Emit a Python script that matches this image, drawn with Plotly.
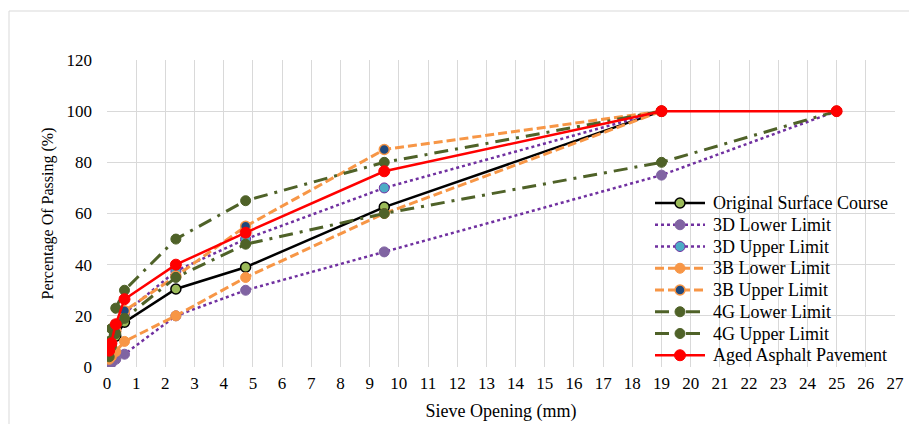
import plotly.graph_objects as go

# Sieve sizes (mm)
sieves_full = [25, 19, 9.5, 4.75, 2.36, 0.6, 0.3, 0.15, 0.075]
sieves_19 = [19, 9.5, 4.75, 2.36, 0.6, 0.3, 0.15, 0.075]

# Percentage passing for each gradation
original_surface = [100, 62.5, 39, 30.5, 17.5, 12, 8, 5]
d3_lower = [100, 75, 45, 30, 20, 5, 3, 1.5, 0]
d3_upper = [100, 70, 50, 37.5, 21, 14, 9, 6]
b3_lower = [100, 60, 35, 20, 10, 6, 4, 3]
b3_upper = [100, 85, 55, 35.5, 22, 14, 9, 6]
g4_lower = [100, 80, 60, 48, 35, 19, 13, 8, 4]
g4_upper = [100, 80, 65, 50, 30, 23, 15, 10]
aged_pavement = [100, 100, 76.5, 52.5, 40, 26.5, 16.7, 9.3, 6.4]

FONT = "Liberation Serif"
DOT = "dot"
DASH = "9px,4px"
DASHDOT = "14px,7px,3px,7px"

series = [
    dict(name="Original Surface Course", x=sieves_19, y=original_surface,
         line=dict(color="#000000", width=2.5),
         marker=dict(color="#9BBB59", size=10, line=dict(color="#000000", width=1.5))),
    dict(name="3D Lower Limit", x=sieves_full, y=d3_lower,
         line=dict(color="#7030A0", width=2.5, dash=DOT),
         marker=dict(color="#8064A2", size=10, line=dict(color="#8064A2", width=1))),
    dict(name="3D Upper Limit", x=sieves_19, y=d3_upper,
         line=dict(color="#7030A0", width=2.5, dash=DOT),
         marker=dict(color="#4BACC6", size=10, line=dict(color="#7030A0", width=1))),
    dict(name="3B Lower Limit", x=sieves_19, y=b3_lower,
         line=dict(color="#F79646", width=3, dash=DASH),
         marker=dict(color="#F79646", size=10, line=dict(color="#F79646", width=1))),
    dict(name="3B Upper Limit", x=sieves_19, y=b3_upper,
         line=dict(color="#F79646", width=3, dash=DASH),
         marker=dict(color="#1F497D", size=10, line=dict(color="#F79646", width=1.5))),
    dict(name="4G Lower Limit", x=sieves_full, y=g4_lower,
         line=dict(color="#4F6228", width=3, dash=DASHDOT),
         marker=dict(color="#4F6228", size=10, line=dict(color="#4F6228", width=1))),
    dict(name="4G Upper Limit", x=sieves_19, y=g4_upper,
         line=dict(color="#4F6228", width=3, dash=DASHDOT),
         marker=dict(color="#4F6228", size=10, line=dict(color="#4F6228", width=1))),
    dict(name="Aged Asphalt Pavement", x=sieves_full, y=aged_pavement,
         line=dict(color="#FF0000", width=2.5),
         marker=dict(color="#FF0000", size=11, line=dict(color="#FF0000", width=1))),
]

fig = go.Figure()
for s in series:
    fig.add_trace(go.Scatter(x=s["x"], y=s["y"], name=s["name"], mode="lines+markers",
                             line=s["line"], marker=s["marker"], showlegend=False))

# Plot-area geometry in pixels (used for the compact legend block)
W, H = 909, 424
ML, MR, MT, MB = 107, 14, 60, 57
PW, PH = W - ML - MR, H - MT - MB


def px_to_paper_x(px):
    return (px - ML) / PW


def px_to_paper_y(py):
    return (H - MB - py) / PH


# Compact legend: sample line + marker + label per series
LEG_LEFT, LEG_SAMPLE, LEG_TOP, LEG_ROW = 655, 50, 203, 21.75
shapes = []
annotations = []
for i, s in enumerate(series):
    cy = px_to_paper_y(LEG_TOP + i * LEG_ROW)
    x0 = px_to_paper_x(LEG_LEFT)
    x1 = px_to_paper_x(LEG_LEFT + LEG_SAMPLE)
    xm = px_to_paper_x(LEG_LEFT + LEG_SAMPLE / 2)
    ln = s["line"]
    shapes.append(dict(type="line", xref="paper", yref="paper", x0=x0, x1=x1, y0=cy, y1=cy,
                       line=dict(color=ln["color"], width=ln["width"], dash=ln.get("dash", "solid"))))
    mk = s["marker"]
    r = mk["size"] / 2
    shapes.append(dict(type="circle", xref="paper", yref="paper",
                       xsizemode="pixel", ysizemode="pixel", xanchor=xm, yanchor=cy,
                       x0=-r, x1=r, y0=-r, y1=r, fillcolor=mk["color"],
                       line=dict(color=mk["line"]["color"], width=mk["line"]["width"])))
    annotations.append(dict(x=px_to_paper_x(LEG_LEFT + LEG_SAMPLE + 6), y=cy, xref="paper", yref="paper",
                            xanchor="left", yanchor="middle", showarrow=False, text=s["name"],
                            font=dict(family=FONT, size=18, color="#000000")))

# Light frame around the whole chart area
shapes.append(dict(type="rect", xref="paper", yref="paper",
                   x0=px_to_paper_x(9), x1=px_to_paper_x(960), y0=px_to_paper_y(480), y1=px_to_paper_y(11),
                   line=dict(color="#D9D9D9", width=1), fillcolor="rgba(0,0,0,0)", layer="below"))

tick_font = dict(family=FONT, size=17, color="#000000")

fig.update_layout(
    width=W, height=H,
    margin=dict(l=ML, r=MR, t=MT, b=MB, autoexpand=False),
    paper_bgcolor="#FFFFFF", plot_bgcolor="#FFFFFF",
    font=dict(family=FONT, size=16, color="#000000"),
    showlegend=False,
    xaxis=dict(range=[0, 27], dtick=1, tick0=0, showgrid=True, gridcolor="#D9D9D9",
               gridwidth=1, zeroline=False, showline=False, ticks="", automargin=False,
               tickfont=tick_font, ticklabelstandoff=4,
               title=dict(text="Sieve Opening (mm)", font=dict(family=FONT, size=18, color="#000000"),
                          standoff=12)),
    yaxis=dict(range=[0, 120], dtick=20, tick0=0, showgrid=True, gridcolor="#D9D9D9",
               gridwidth=1, zeroline=False, showline=False, ticks="", automargin=False,
               tickfont=tick_font, ticklabelstandoff=14,
               title=dict(text="Percentage Of Passing (%)", font=dict(family=FONT, size=16, color="#000000"),
                          standoff=8)),
    shapes=shapes,
    annotations=annotations,
)

fig.write_html("out.html")
